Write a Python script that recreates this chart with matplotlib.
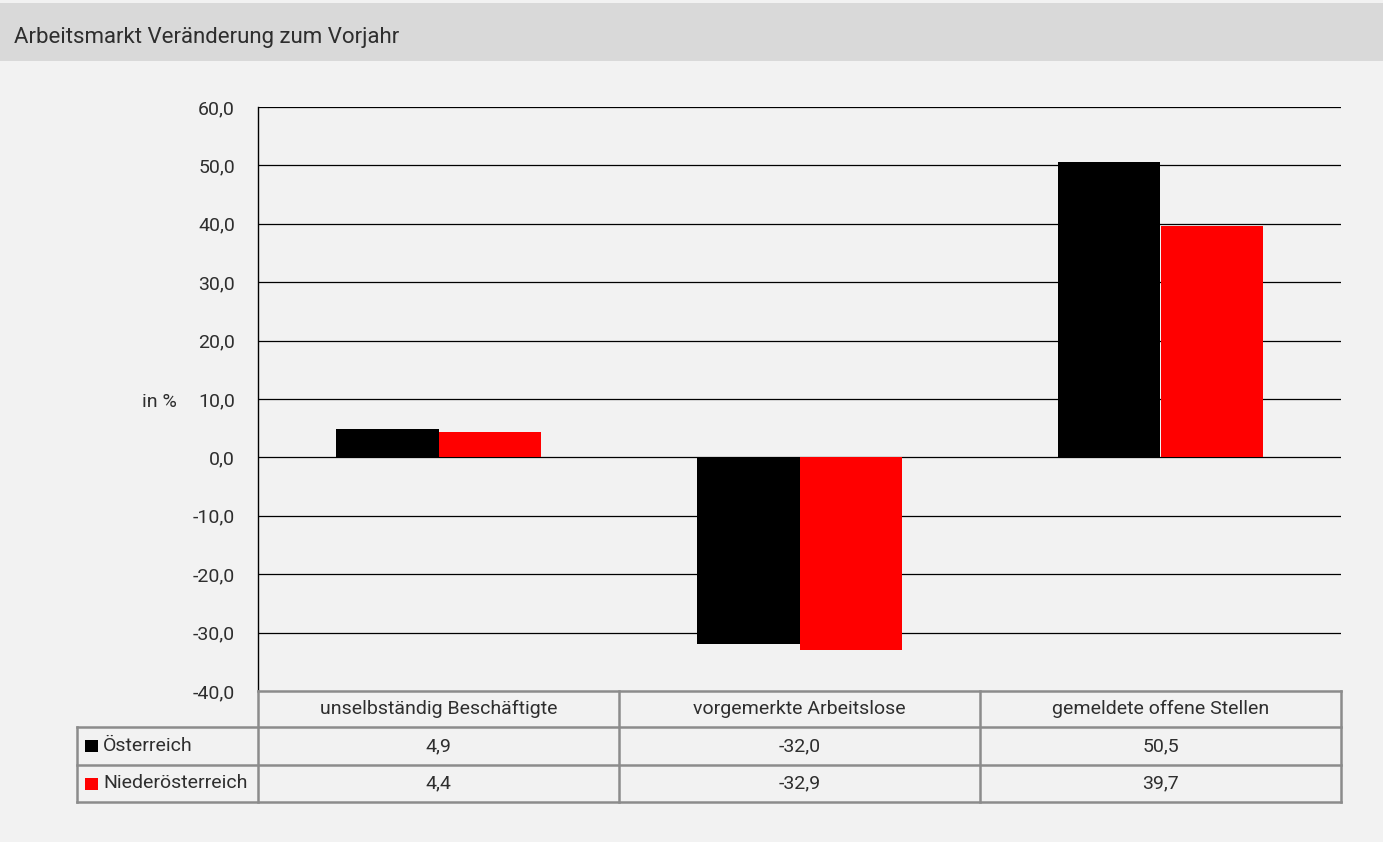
import matplotlib.pyplot as plt
import matplotlib.patches as mpatches
from matplotlib.lines import Line2D
import numpy as np

plt.rcParams['font.family'] = ['Roboto', 'DejaVu Sans']

categories = ['unselbständig Beschäftigte', 'vorgemerkte Arbeitslose', 'gemeldete offene Stellen']
series_names = ['Österreich', 'Niederösterreich']
oesterreich = [4.9, -32.0, 50.5]
niederoesterreich = [4.4, -32.9, 39.7]
series_colors = ['#000000', '#ff0000']
yticks = [-40, -30, -20, -10, 0, 10, 20, 30, 40, 50, 60]

W, H = 1383, 842
fig = plt.figure(figsize=(W / 100, H / 100), dpi=100)
fig.patch.set_facecolor('#f2f2f2')

TXT = '#2e2e2e'
FS = 14
FW = 'normal'


def fx(px):
    return px / W


def fy(py):
    return 1 - py / H


# Title bar
fig.patches.append(mpatches.Rectangle((0, fy(61)), 1, fy(3) - fy(61), transform=fig.transFigure,
                                      facecolor='#d9d9d9', edgecolor='none', zorder=0))
fig.text(fx(14), fy(37), 'Arbeitsmarkt Veränderung zum Vorjahr', fontsize=16, fontweight=FW,
         color=TXT, va='center', ha='left')

# Chart axes
left, right, top, bottom = 258, 1341, 107, 691
ax = fig.add_axes([fx(left), fy(bottom), fx(right - left), fy(top) - fy(bottom)])
ax.set_facecolor('none')
x = np.arange(len(categories))
bw = 0.285
for i, (vals, col) in enumerate(zip([oesterreich, niederoesterreich], series_colors)):
    ax.bar(x + (i - 0.5) * bw, vals, width=bw, color=col, zorder=3)
ax.set_xlim(-0.5, len(categories) - 0.5)
ax.set_ylim(-40, 60)
ax.set_yticks(yticks)
ax.set_yticklabels([f'{v:.1f}'.replace('.', ',') for v in yticks], fontsize=FS,
                   fontweight=FW, color=TXT)
ax.tick_params(axis='y', length=0, pad=16.5)
ax.set_xticks([])
for v in yticks:
    if v != -40:
        ax.axhline(v, color='#000000', lw=0.9, zorder=2)
for s in ['top', 'right', 'bottom']:
    ax.spines[s].set_visible(False)
ax.spines['left'].set_color('#000000')
ax.spines['left'].set_linewidth(1.0)
fig.text(fx(159), fy(402), 'in %', fontsize=FS, fontweight=FW, color=TXT,
         ha='center', va='center')

# Data table
gray = '#8c8c8c'
col_x = [left + k * (right - left) / 3 for k in range(4)]
row_y = [691, 727, 765, 802]
tleft = 77


def hline(y, x0, x1):
    fig.lines.append(Line2D([fx(x0), fx(x1)], [fy(y), fy(y)], transform=fig.transFigure,
                            color=gray, lw=1.8, zorder=5))


def vline(xp, y0, y1):
    fig.lines.append(Line2D([fx(xp), fx(xp)], [fy(y0), fy(y1)], transform=fig.transFigure,
                            color=gray, lw=1.8, zorder=5))


hline(row_y[0], col_x[0], col_x[-1])
for y in row_y[1:]:
    hline(y, tleft, col_x[-1])
for xp in col_x:
    vline(xp, row_y[0], row_y[-1])
vline(tleft, row_y[1], row_y[-1])

for k, cat in enumerate(categories):
    cx = (col_x[k] + col_x[k + 1]) / 2
    fig.text(fx(cx), fy((row_y[0] + row_y[1]) / 2), cat, fontsize=FS, fontweight=FW,
             color=TXT, ha='center', va='center')

for r, (name, vals, col) in enumerate(zip(series_names, [oesterreich, niederoesterreich], series_colors)):
    cy = (row_y[r + 1] + row_y[r + 2]) / 2
    fig.patches.append(mpatches.Rectangle((fx(85), fy(cy + 6)), fx(13), fy(cy - 6) - fy(cy + 6),
                                          transform=fig.transFigure, facecolor=col,
                                          edgecolor='none', zorder=6))
    fig.text(fx(103), fy(cy), name, fontsize=FS, fontweight=FW, color=TXT,
             ha='left', va='center')
    for k, v in enumerate(vals):
        cx = (col_x[k] + col_x[k + 1]) / 2
        fig.text(fx(cx), fy(cy), f'{v:.1f}'.replace('.', ','), fontsize=FS, fontweight=FW,
                 color=TXT, ha='center', va='center')

fig.savefig('out.png', dpi=100, facecolor=fig.get_facecolor())
